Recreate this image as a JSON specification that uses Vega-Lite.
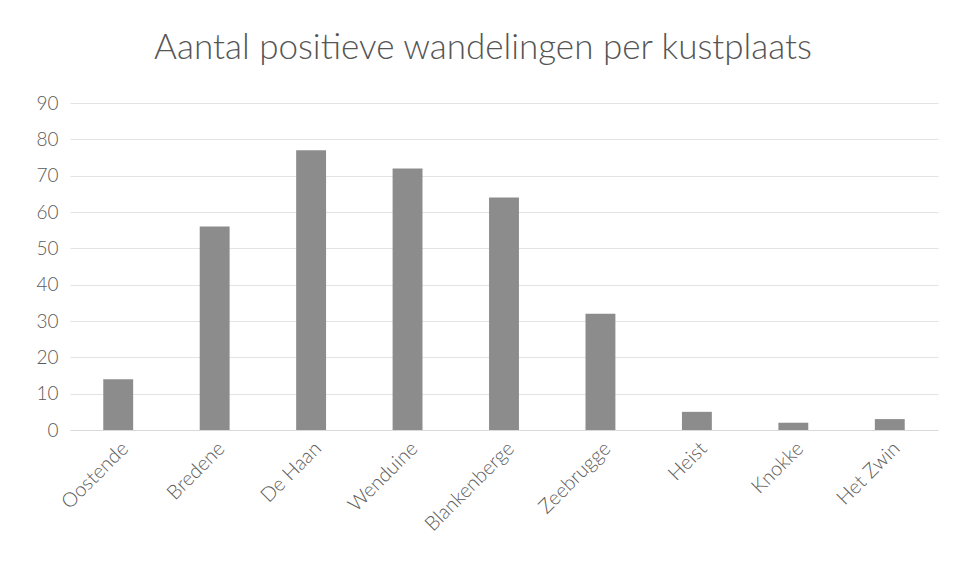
{
  "$schema": "https://vega.github.io/schema/vega-lite/v6.json",
  "autosize": "none",
  "width": 868,
  "height": 327,
  "padding": {"left": 70, "top": 103, "right": 25, "bottom": 146},
  "background": "white",
  "title": {
    "text": "Aantal positieve wandelingen per kustplaats",
    "font": "Lato",
    "fontSize": 35,
    "fontWeight": 300,
    "color": "#555555",
    "anchor": "middle",
    "dx": -21,
    "offset": 28
  },
  "data": {
    "values": [
      {"plaats": "Oostende", "aantal": 14},
      {"plaats": "Bredene", "aantal": 56},
      {"plaats": "De Haan", "aantal": 77},
      {"plaats": "Wenduine", "aantal": 72},
      {"plaats": "Blankenberge", "aantal": 64},
      {"plaats": "Zeebrugge", "aantal": 32},
      {"plaats": "Heist", "aantal": 5},
      {"plaats": "Knokke", "aantal": 2},
      {"plaats": "Het Zwin", "aantal": 3}
    ]
  },
  "mark": {"type": "bar", "color": "#8c8c8c"},
  "encoding": {
    "x": {
      "field": "plaats",
      "type": "nominal",
      "sort": null,
      "scale": {"paddingInner": 0.69, "paddingOuter": 0.345},
      "axis": {
        "title": null,
        "labelAngle": -45,
        "labelFont": "Lato",
        "labelFontSize": 20,
        "labelFontWeight": 300,
        "labelColor": "#5a5a5a",
        "ticks": false,
        "labelPadding": 8,
        "domain": true,
        "domainColor": "#d9d9d9",
        "grid": false
      }
    },
    "y": {
      "field": "aantal",
      "type": "quantitative",
      "scale": {"domain": [0, 90]},
      "axis": {
        "title": null,
        "values": [0, 10, 20, 30, 40, 50, 60, 70, 80, 90],
        "labelFont": "Lato",
        "labelFontSize": 19,
        "labelFontWeight": 300,
        "labelColor": "#5a5a5a",
        "ticks": false,
        "domain": false,
        "labelPadding": 12,
        "gridColor": "#e3e3e3",
        "gridWidth": 1
      }
    }
  },
  "config": {"view": {"stroke": null}}
}
